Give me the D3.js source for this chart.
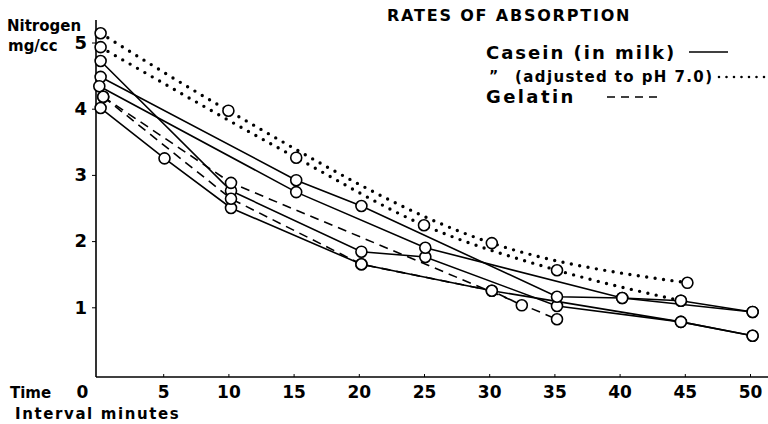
<!DOCTYPE html>
<html>
<head>
<meta charset="utf-8">
<script src="https://cdn.jsdelivr.net/npm/d3@7"></script>
<style>
  body { margin: 0; background: #fff; }
  svg text { font-family: "DejaVu Sans", sans-serif; font-weight: bold; fill: #000; }
</style>
</head>
<body>
<div id="svgDiv"></div>
<script>
var width = 768, height = 424;

// tick labels
var xTicks = [0, 5, 10, 15, 20, 25, 30, 35, 40, 45, 50];
var yTicks = [1, 2, 3, 4, 5];

// casein in milk (solid), [minutes, mg/cc]
var casein1 = [[0.2, 4.72], [10.2, 2.76], [20.2, 1.84], [25.1, 1.76], [35.2, 1.02], [44.7, 0.78], [50.2, 0.57]];
var casein2 = [[0.2, 4.48], [15.2, 2.92], [20.2, 2.53], [35.2, 1.16], [40.2, 1.14], [44.7, 1.10], [50.2, 0.93]];
var casein3 = [[0.1, 4.34], [15.2, 2.74], [25.1, 1.90], [40.2, 1.14], [50.2, 0.93]];
var casein4 = [[0.2, 4.01], [5.1, 3.25], [10.2, 2.50], [20.2, 1.65], [30.2, 1.25], [44.7, 0.78], [50.2, 0.57]];

// casein adjusted to pH 7.0 (dotted)
var adjusted1 = [[0.2, 5.14], [10.0, 3.97], [30.2, 1.97], [45.2, 1.37]];
var adjusted2 = [[0.2, 4.93], [15.2, 3.26], [25.0, 2.24], [35.2, 1.56], [44.7, 1.10]];

// gelatin (dashed)
var gelatin1 = [[0.4, 4.18], [10.2, 2.88], [35.2, 0.82]];
var gelatin2 = [[0.4, 4.18], [10.2, 2.64], [20.2, 1.65], [30.2, 1.25], [32.5, 1.03]];

var series = [
  { data: casein1, type: "solid" },
  { data: casein2, type: "solid" },
  { data: casein3, type: "solid" },
  { data: casein4, type: "solid" },
  { data: gelatin1, type: "dashed" },
  { data: gelatin2, type: "dashed" },
  { data: adjusted1, type: "dotted" },
  { data: adjusted2, type: "dotted" }
];

var svg = d3.select("#svgDiv").append("svg")
  .attr("width", width)
  .attr("height", height);

var x = d3.scaleLinear().domain([0, 50]).range([98, 750]);
var y = d3.scaleLinear().domain([0, 5]).range([373.5, 42.5]);

var line = d3.line()
  .x(function(d) { return x(d[0]); })
  .y(function(d) { return y(d[1]); });

// the dotted curves are drawn smooth
var smooth = d3.line()
  .curve(d3.curveMonotoneX)
  .x(function(d) { return x(d[0]); })
  .y(function(d) { return y(d[1]); });

// axes
svg.append("line")
  .attr("x1", 96).attr("x2", 96)
  .attr("y1", 20).attr("y2", 377)
  .attr("stroke", "#000").attr("stroke-width", 1.6);

svg.append("line")
  .attr("x1", 96).attr("x2", 768)
  .attr("y1", 377).attr("y2", 377)
  .attr("stroke", "#000").attr("stroke-width", 1.6);

var yAxis = d3.axisLeft(y).tickValues(yTicks).tickSize(4).tickPadding(5).tickFormat(d3.format("d"));
var gy = svg.append("g").attr("transform", "translate(96,0)").call(yAxis);
gy.select(".domain").remove();
gy.selectAll("text").style("font-size", "18px");

var xAxis = d3.axisBottom(x).tickValues(xTicks).tickSize(-3).tickPadding(0).tickFormat(d3.format("d"));
var gx = svg.append("g").attr("transform", "translate(0,377)").call(xAxis);
gx.select(".domain").remove();
gx.selectAll("text").style("font-size", "17px").attr("dy", null).attr("y", 21);
gx.selectAll(".tick").filter(function(d) { return d === 0; }).select("line").remove();
gx.selectAll(".tick").filter(function(d) { return d === 0; }).select("text").attr("x", -16);

// axis titles
svg.append("text").attr("x", 7).attr("y", 31).style("font-size", "15px").text("Nitrogen");
svg.append("text").attr("x", 8).attr("y", 51).style("font-size", "15px").text("mg/cc");
svg.append("text").attr("x", 10).attr("y", 398).style("font-size", "15px").text("Time");
svg.append("text").attr("x", 15).attr("y", 419).style("font-size", "15px")
  .style("letter-spacing", "1.6px").text("Interval minutes");

// lines
svg.selectAll("path.series")
  .data(series).enter()
  .append("path")
  .attr("class", "series")
  .attr("d", function(d) { return d.type === "dotted" ? smooth(d.data) : line(d.data); })
  .attr("fill", "none")
  .attr("stroke", "#000")
  .attr("stroke-width", function(d) { return d.type === "dotted" ? 3.4 : 1.6; })
  .attr("stroke-linecap", function(d) { return d.type === "dotted" ? "round" : "butt"; })
  .attr("stroke-dasharray", function(d) {
    if (d.type === "dotted") return "0,8.5";
    if (d.type === "dashed") return "9,6";
    return null;
  });

// open circles on top
var pts = [];
series.forEach(function(s) { s.data.forEach(function(p) { pts.push(p); }); });

svg.selectAll("circle")
  .data(pts).enter()
  .append("circle")
  .attr("cx", function(d) { return x(d[0]); })
  .attr("cy", function(d) { return y(d[1]); })
  .attr("r", 5.5)
  .attr("fill", "#fff")
  .attr("stroke", "#000")
  .attr("stroke-width", 1.6);

// title + legend
svg.append("text").attr("x", 387).attr("y", 21)
  .style("font-size", "16px").style("letter-spacing", "1.8px")
  .text("RATES OF ABSORPTION");

svg.append("text").attr("x", 486).attr("y", 59)
  .style("font-size", "18px").style("letter-spacing", "2px").text("Casein (in milk)");
svg.append("line").attr("x1", 689).attr("x2", 728).attr("y1", 52).attr("y2", 52)
  .attr("stroke", "#000").attr("stroke-width", 1.6);

svg.append("text").attr("x", 489).attr("y", 80).style("font-size", "14px").text("\u201D");
svg.append("text").attr("x", 515).attr("y", 82)
  .style("font-size", "15px").style("letter-spacing", "1.4px").text("(adjusted to pH 7.0)");
svg.append("line").attr("x1", 719).attr("x2", 766).attr("y1", 77).attr("y2", 77)
  .attr("stroke", "#000").attr("stroke-width", 2.6).attr("stroke-linecap", "round")
  .attr("stroke-dasharray", "0,7.5");

svg.append("text").attr("x", 486).attr("y", 103)
  .style("font-size", "18px").style("letter-spacing", "2.4px").text("Gelatin");
svg.append("line").attr("x1", 607).attr("x2", 657).attr("y1", 97).attr("y2", 97)
  .attr("stroke", "#000").attr("stroke-width", 1.6).attr("stroke-dasharray", "8,6");
</script>
</body>
</html>
